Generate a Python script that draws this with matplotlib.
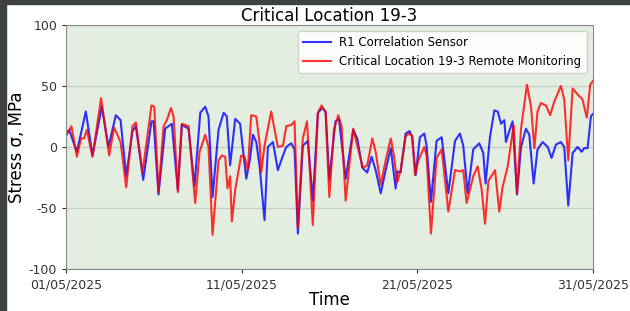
import matplotlib
matplotlib.use("Agg")
import matplotlib.pyplot as plt
from matplotlib.patches import Rectangle
from datetime import datetime
import pandas as pd

plt.rcParams['axes.unicode_minus'] = False

start = pd.Timestamp("2025-05-01")
tick_dates = [datetime(2025, 5, 1), datetime(2025, 5, 11), datetime(2025, 5, 21), datetime(2025, 5, 31)]
tick_labels = ["01/05/2025", "11/05/2025", "21/05/2025", "31/05/2025"]

# R1 Correlation Sensor (days since 01/05/2025, MPa)
blue_days = [0.0, 0.17, 0.61, 1.12, 1.5, 2.03, 2.41, 2.83, 3.1, 3.42, 3.78, 3.97, 4.39, 4.86,
             4.98, 5.26, 5.64, 6.02, 6.36, 6.59, 6.97, 7.31, 7.64, 7.92, 8.11, 8.34, 8.68, 8.97,
             9.15, 9.34, 9.63, 9.91, 10.07, 10.26, 10.46, 10.64, 10.83, 11.02, 11.3, 11.49,
             11.78, 12.06, 12.35, 12.54, 12.82, 13.01, 13.2, 13.48, 13.77, 14.05, 14.34, 14.59,
             14.78, 14.99, 15.34, 15.54, 15.92, 16.35, 16.58, 16.87, 17.15, 17.4, 17.63, 17.92,
             18.2, 18.49, 18.77, 18.86, 19.05, 19.34, 19.56, 19.71, 19.91, 20.15, 20.4, 20.53,
             20.78, 21.1, 21.39, 21.77, 22.15, 22.43, 22.62, 22.87, 23.19, 23.53, 23.76, 23.89,
             24.14, 24.39, 24.58, 24.77, 24.96, 25.05, 25.24, 25.43, 25.68, 25.91, 26.19, 26.38,
             26.63, 26.85, 27.14, 27.43, 27.65, 27.9, 28.18, 28.37, 28.6, 28.85, 29.13, 29.36,
             29.51, 29.7, 29.89, 30.0]
blue_vals = [11, 14, -4, 29, -7, 33, 0, 26, 22, -24, 13, 17, -27, 21,
             21, -39, 15, 19, -35, 18, 15, -32, 28, 33, 25, -41, 14, 28,
             25, -15, 23, 19, -2, -26, -11, 10, 4, -16, -60, 0,
             4, -19, -7, 0, 3, -2, -71, 1, 5, -44, 28, 32,
             29, -27, 21, 23, -26, 14, 7, -17, -21, -8, -19, -38,
             -19, -1, -34, -20, -21, 11, 13, 8, -23, 8, 11, 1,
             -45, 5, 8, -38, 5, 11, 1, -38, -2, 3, -5, -30,
             8, 30, 29, 19, 22, 4, 13, 21, -39, 0, 15, 10,
             -30, -2, 4, 0, -9, 2, 4, 0, -48, -5, 0, -4,
             -1, -1, 25, 27]

# Critical Location 19-3 Remote Monitoring
red_days = [0.0, 0.3, 0.61, 0.85, 1.02, 1.18, 1.5, 1.99, 2.45, 2.73, 3.1, 3.42, 3.78, 3.97,
            4.35, 4.86, 5.02, 5.26, 5.55, 5.74, 5.97, 6.12, 6.36, 6.59, 6.97, 7.35, 7.6, 7.92,
            8.11, 8.34, 8.68, 8.87, 9.06, 9.19, 9.34, 9.44, 9.63, 9.97, 10.16, 10.35, 10.54,
            10.83, 11.02, 11.11, 11.3, 11.68, 12.06, 12.35, 12.54, 12.82, 13.01, 13.2, 13.48,
            13.72, 14.05, 14.34, 14.55, 14.78, 14.99, 15.25, 15.5, 15.69, 15.92, 16.35, 16.67,
            16.9, 17.15, 17.44, 17.63, 17.92, 18.2, 18.49, 18.68, 18.86, 19.05, 19.34, 19.56,
            19.71, 19.87, 20.06, 20.4, 20.53, 20.78, 21.1, 21.39, 21.77, 22.15, 22.43, 22.62,
            22.81, 23.19, 23.44, 23.67, 23.86, 24.05, 24.43, 24.67, 24.86, 25.15, 25.49, 25.68,
            25.91, 26.25, 26.48, 26.67, 26.85, 27.04, 27.33, 27.57, 27.8, 28.18, 28.37, 28.6,
            28.85, 29.13, 29.41, 29.66, 29.85, 30.0]
red_vals = [9, 17, -8, 7, 7, 14, -8, 40, -7, 16, 4, -33, 17, 20,
            -21, 34, 33, -37, 17, 22, 32, 25, -37, 19, 17, -46, -4, 10,
            0, -72, -11, -7, -8, -34, -24, -61, -35, -7, -8, -19, 26,
            25, 3, -21, 1, 29, 0, 1, 17, 18, 21, -66, 7,
            21, -64, 28, 34, 28, -41, 14, 26, 17, -44, 15, -4,
            -17, -15, 7, -4, -31, -11, 7, -8, -29, -19, 9, 11,
            9, -23, -11, 0, -7, -71, -9, -2, -53, -19, -20, -19,
            -46, -24, -16, -35, -63, -28, -19, -53, -33, -16, 18, -38,
            15, 51, 33, -1, 29, 36, 34, 26, 37, 50, 39, -11,
            48, 43, 39, 24, 51, 54]

blue_t = start + pd.to_timedelta(blue_days, unit="D")
red_t = start + pd.to_timedelta(red_days, unit="D")

fig = plt.figure(figsize=(6.3, 3.11), dpi=100)
# dark frame on top and left like the screenshot
fig.patches.append(Rectangle((0, 0.987), 1, 0.013, transform=fig.transFigure, color="#3d4240"))
fig.patches.append(Rectangle((0, 0), 0.0095, 1, transform=fig.transFigure, color="#3d4240"))

ax = fig.add_axes([0.105, 0.135, 0.836, 0.785])
ax.set_facecolor("#e3eee1")
ax.plot(blue_t, blue_vals, color="blue", alpha=0.8, lw=1.5, label="R1 Correlation Sensor")
ax.plot(red_t, red_vals, color="red", alpha=0.8, lw=1.5,
        label="Critical Location 19-3 Remote Monitoring")

ax.set_xlim(tick_dates[0], tick_dates[-1])
ax.set_ylim(-100, 100)
ax.set_yticks([-100, -50, 0, 50, 100])
ax.set_xticks(tick_dates)
ax.set_xticklabels(tick_labels)
ax.tick_params(labelsize=9, colors="#333333", length=3)
ax.grid(axis="y", color="#c8cfc6", lw=1)
for s in ax.spines.values():
    s.set_color("#888888")

ax.set_title("Critical Location 19-3", fontsize=12, pad=3)
ax.set_xlabel("Time", fontsize=12, labelpad=0)
ax.set_ylabel("Stress σ, MPa", fontsize=12, labelpad=2)
ax.legend(loc="upper right", fontsize=8.5, framealpha=0.9, borderaxespad=0.5,
          handlelength=2.4, handletextpad=0.7, borderpad=0.45)

fig.savefig("out.png")
